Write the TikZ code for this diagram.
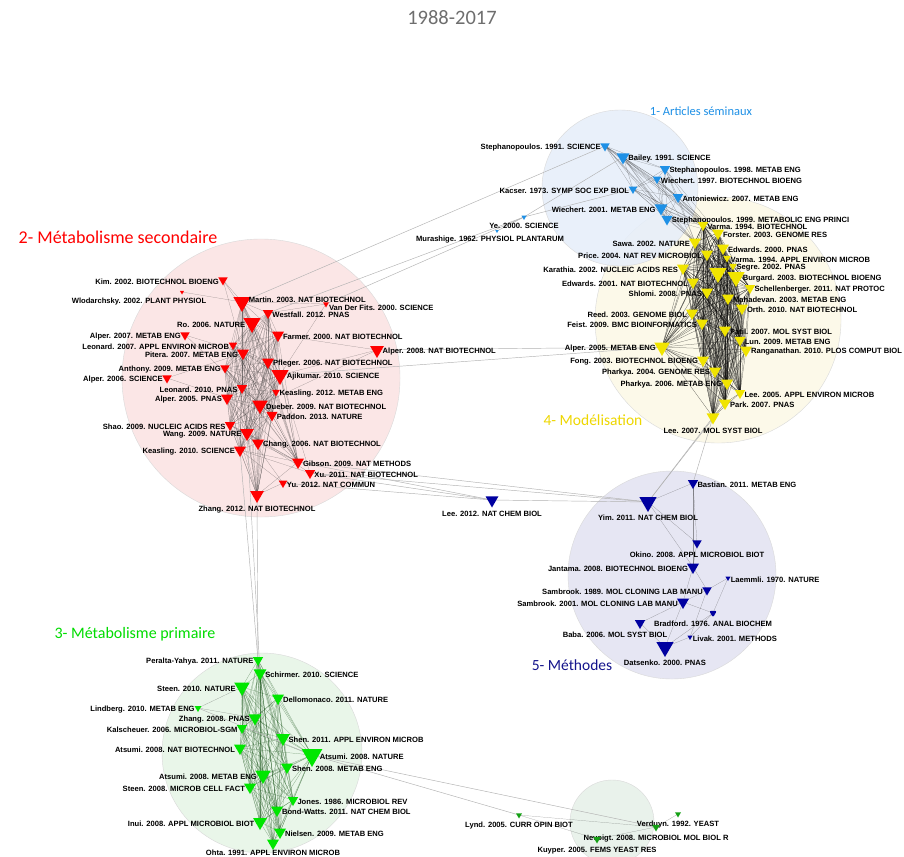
\documentclass[tikz,border=0pt]{standalone}
\usepackage{fontspec}
\setmainfont{Liberation Sans}
\newfontfamily\clusterfont{Carlito}
\usepackage{tikz}
\usetikzlibrary{shapes.geometric}
\definecolor{artblue}{RGB}{30,144,230}
\definecolor{nodered}{RGB}{255,0,0}
\definecolor{nodeyellow}{RGB}{240,228,0}
\definecolor{nodegreen}{RGB}{0,230,0}
\definecolor{nodenavy}{RGB}{0,0,160}
\definecolor{nodesage}{RGB}{20,160,20}
\definecolor{labelyellow}{RGB}{238,215,0}
\definecolor{labelgreen}{RGB}{0,220,0}
\definecolor{labelnavy}{RGB}{20,20,140}
\definecolor{titlegrey}{RGB}{110,110,110}
\definecolor{fillblue}{RGB}{230,238,250}
\definecolor{fillred}{RGB}{251,226,226}
\definecolor{fillgreen}{RGB}{230,245,230}
\definecolor{fillyellow}{RGB}{252,249,230}
\definecolor{fillnavy}{RGB}{226,226,242}
\definecolor{fillsage}{RGB}{230,240,232}
\pgfdeclarelayer{discs}
\pgfdeclarelayer{links}
\pgfsetlayers{discs,links,main}

\begin{document}
\begin{tikzpicture}[
                x=1pt, y=-1pt,
                lbl/.style={font=\bfseries\fontsize{7.6}{8}\selectfont, inner sep=0.6pt, text=black, yshift=-2pt},
                every label/.append style={lbl},
                label distance=0pt,
                tri/.style={regular polygon, regular polygon sides=3, shape border rotate=180, inner sep=0pt, minimum size=#1pt},
                btri/.style={tri=#1, fill=artblue},
                ytri/.style={tri=#1, fill=nodeyellow},
                rtri/.style={tri=#1, fill=nodered},
                gtri/.style={tri=#1, fill=nodegreen},
                dtri/.style={tri=#1, fill=nodenavy},
                stri/.style={tri=#1, fill=nodesage},
                cluster/.style={circle, draw=black!15, line width=0.4pt, inner sep=0pt, fill opacity=0.85, minimum size=#1pt},
                grouplabel/.style={font=\clusterfont\fontsize{#1}{#1}\selectfont},
                lnk/.style={draw=black!85, line width=0.2pt, opacity=0.45},
                ylnk/.style={draw=black, line width=0.25pt, opacity=0.6},
                glnk/.style={draw=green!25!black, line width=0.2pt, opacity=0.5},
                xlnk/.style={draw=black!30, line width=0.45pt}
                ]
                \useasboundingbox (0,0) rectangle (904,856);

                % cluster discs
                \begin{pgfonlayer}{discs}
                \fill[white] (0,0) rectangle (904,856);
                \node[cluster=246, fill=fillyellow] (c4) at (718,320) {};
                \node[cluster=156, fill=fillblue] (c1) at (620,188) {};
                \node[cluster=278, fill=fillred] (c2) at (261,378) {};
                \node[cluster=200, fill=fillgreen] (c3) at (262,753) {};
                \node[cluster=208, fill=fillnavy] (c5) at (672,575) {};
                \node[cluster=84, fill=fillsage] (c6) at (612,822) {};
                \end{pgfonlayer}

                \node[grouplabel=20.5, text=titlegrey] (title) at (452,18) {1988-2017};
                \node[grouplabel=12.5, text=artblue] (lab1) at (701,111) {1- Articles séminaux};
                \node[grouplabel=18, text=nodered] (lab2) at (118,237) {2- Métabolisme secondaire};
                \node[grouplabel=16, text=labelgreen] (lab3) at (135,634) {3- Métabolisme primaire};
                \node[grouplabel=15.5, text=labelyellow] (lab4) at (593,420) {4- Modélisation};
                \node[grouplabel=15.5, text=labelnavy] (lab5) at (572,665) {5- Méthodes};

                % 1 - seminal articles
                \node[btri=11, label=left:Stephanopoulos. 1991. SCIENCE] (b1) at (605,146) {};
                \node[btri=15, label=right:Bailey. 1991. SCIENCE] (b2) at (623,157) {};
                \node[btri=12, label=right:Stephanopoulos. 1998. METAB ENG] (b3) at (665,169) {};
                \node[btri=10, label=right:Wiechert. 1997. BIOTECHNOL BIOENG] (b4) at (657,179) {};
                \node[btri=10, label=left:Kacser. 1973. SYMP SOC EXP BIOL] (b5) at (633,189) {};
                \node[btri=12, label=right:Antoniewicz. 2007. METAB ENG] (b6) at (678,197) {};
                \node[btri=15, label=left:Wiechert. 2001. METAB ENG] (b7) at (661,208) {};
                \node[btri=13, label=right:Stephanopoulos. 1999. METABOLIC ENG PRINCI] (b8) at (667,219) {};
                \node[btri=6, label=below:Ye. 2000. SCIENCE] (b9) at (524,217) {};
                \node[btri=4, label={[xshift=-7pt]below:Murashige. 1962. PHYSIOL PLANTARUM}] (b10) at (497,231) {};

                % 4 - modelling
                \node[ytri=12, label=right:Varma. 1994. BIOTECHNOL] (y1) at (703,225) {};
                \node[ytri=14, label=right:Forster. 2003. GENOME RES] (y2) at (718,233) {};
                \node[ytri=14, label=left:Sawa. 2002. NATURE] (y3) at (695,242) {};
                \node[ytri=14, label=right:Edwards. 2000. PNAS] (y4) at (723,248) {};
                \node[ytri=14, label=left:Price. 2004. NAT REV MICROBIOL] (y5) at (707,254) {};
                \node[ytri=9, label=right:Varma. 1994. APPL ENVIRON MICROB] (y6) at (727,258) {};
                \node[ytri=14, label=left:Karathia. 2002. NUCLEIC ACIDS RES] (y7) at (683,268) {};
                \node[ytri=9, label=right:Segre. 2002. PNAS] (y8) at (733,266) {};
                \node[ytri=20] (y9) at (718,273) {};
                \node[ytri=20, label=right:Burgard. 2003. BIOTECHNOL BIOENG] (y10) at (736,277) {};
                \node[ytri=14, label=left:Edwards. 2001. NAT BIOTECHNOL] (y11) at (693,282) {};
                \node[ytri=12, label=right:Schellenberger. 2011. NAT PROTOC] (y12) at (750,288) {};
                \node[ytri=14, label=left:Shlomi. 2008. PNAS] (y13) at (707,292) {};
                \node[ytri=14, label=right:Mahadevan. 2003. METAB ENG] (y14) at (728,298) {};
                \node[ytri=14, label=right:Orth. 2010. NAT BIOTECHNOL] (y15) at (742,308) {};
                \node[ytri=14, label=left:Reed. 2003. GENOME BIOL] (y16) at (692,313) {};
                \node[ytri=14, label=left:Feist. 2009. BMC BIOINFORMATICS] (y17) at (702,323) {};
                \node[ytri=14, label=right:Patil. 2007. MOL SYST BIOL] (y18) at (725,330) {};
                \node[ytri=13, label=right:Lun. 2009. METAB ENG] (y19) at (740,340) {};
                \node[ytri=14, label=right:Ranganathan. 2010. PLOS COMPUT BIOL] (y20) at (746,350) {};
                \node[ytri=18, label=left:Alper. 2005. METAB ENG] (y21) at (662,347) {};
                \node[ytri=14, label=left:Fong. 2003. BIOTECHNOL BIOENG] (y22) at (703,360) {};
                \node[ytri=14, label=left:Pharkya. 2004. GENOME RES] (y23) at (715,371) {};
                \node[ytri=14, label=left:Pharkya. 2006. METAB ENG] (y24) at (727,383) {};
                \node[ytri=12, label=right:Lee. 2005. APPL ENVIRON MICROB] (y25) at (740,393) {};
                \node[ytri=14, label=right:Park. 2007. PNAS] (y26) at (725,403) {};
                \node[ytri=15, label=below:Lee. 2007. MOL SYST BIOL] (y27) at (713,417) {};

                % 2 - secondary metabolism
                \node[rtri=11, label=left:Kim. 2002. BIOTECHNOL BIOENG] (r1) at (223,280) {};
                \node[rtri=5, label={[xshift=-43pt]below:Wlodarchsky. 2002. PLANT PHYSIOL}] (r2) at (182,292) {};
                \node[rtri=20, label={[yshift=4pt]right:Martin. 2003. NAT BIOTECHNOL}] (r3) at (242,302) {};
                \node[rtri=7, label={[yshift=-2pt]right:Van Der Fits. 2000. SCIENCE}] (r4) at (326,304) {};
                \node[rtri=20, label=left:Ro. 2006. NATURE] (r5) at (252,323) {};
                \node[rtri=12, label=right:Westfall. 2012. PNAS] (r6) at (268,313) {};
                \node[rtri=14, label=right:Farmer. 2000. NAT BIOTECHNOL] (r7) at (278,335) {};
                \node[rtri=11, label=left:Alper. 2007. METAB ENG] (r8) at (185,335) {};
                \node[rtri=10, label=left:Leonard. 2007. APPL ENVIRON MICROB] (r9) at (233,345) {};
                \node[rtri=14, label=left:Pitera. 2007. METAB ENG] (r10) at (243,353) {};
                \node[rtri=14, label=right:Pfleger. 2006. NAT BIOTECHNOL] (r11) at (268,362) {};
                \node[rtri=16, label=right:Alper. 2008. NAT BIOTECHNOL] (r12) at (377,350) {};
                \node[rtri=11, label=left:Anthony. 2009. METAB ENG] (r13) at (225,368) {};
                \node[rtri=20, label=right:Ajikumar. 2010. SCIENCE] (r14) at (280,375) {};
                \node[rtri=11, label=left:Alper. 2006. SCIENCE] (r15) at (167,378) {};
                \node[rtri=12, label=left:Leonard. 2010. PNAS] (r16) at (242,388) {};
                \node[rtri=9, label=right:Keasling. 2012. METAB ENG] (r17) at (276,392) {};
                \node[rtri=14, label=left:Alper. 2005. PNAS] (r18) at (227,398) {};
                \node[rtri=18, label=right:Dueber. 2009. NAT BIOTECHNOL] (r19) at (260,405) {};
                \node[rtri=13, label=right:Paddon. 2013. NATURE] (r20) at (272,415) {};
                \node[rtri=12, label=left:Shao. 2009. NUCLEIC ACIDS RES] (r21) at (230,425) {};
                \node[rtri=16, label=left:Wang. 2009. NATURE] (r22) at (247,433) {};
                \node[rtri=14, label=right:Chang. 2006. NAT BIOTECHNOL] (r23) at (258,443) {};
                \node[rtri=14, label=left:Keasling. 2010. SCIENCE] (r24) at (240,450) {};
                \node[rtri=14, label=right:Gibson. 2009. NAT METHODS] (r25) at (298,462) {};
                \node[rtri=12, label=right:Xu. 2011. NAT BIOTECHNOL] (r26) at (310,473) {};
                \node[rtri=10, label=right:Yu. 2012. NAT COMMUN] (r27) at (283,483) {};
                \node[rtri=16, label=below:Zhang. 2012. NAT BIOTECHNOL] (r28) at (257,495) {};

                % 3 - primary metabolism
                \node[gtri=12, label=left:Peralta-Yahya. 2011. NATURE] (g1) at (258,660) {};
                \node[gtri=15, label=right:Schirmer. 2010. SCIENCE] (g2) at (260,673) {};
                \node[gtri=18, label=left:Steen. 2010. NATURE] (g3) at (242,687) {};
                \node[gtri=14, label=right:Dellomonaco. 2011. NATURE] (g4) at (278,698) {};
                \node[gtri=8, label=left:Lindberg. 2010. METAB ENG] (g5) at (198,708) {};
                \node[gtri=15, label=left:Zhang. 2008. PNAS] (g6) at (255,718) {};
                \node[gtri=12, label=left:Kalscheuer. 2006. MICROBIOL-SGM] (g7) at (242,728) {};
                \node[gtri=16, label=right:Shen. 2011. APPL ENVIRON MICROB] (g8) at (283,738) {};
                \node[gtri=14, label=left:Atsumi. 2008. NAT BIOTECHNOL] (g9) at (240,748) {};
                \node[gtri=24, label=right:Atsumi. 2008. NATURE] (g10) at (312,755) {};
                \node[gtri=14, label=right:Shen. 2008. METAB ENG] (g11) at (287,767) {};
                \node[gtri=18, label=left:Atsumi. 2008. METAB ENG] (g12) at (263,775) {};
                \node[gtri=14, label=left:Steen. 2008. MICROB CELL FACT] (g13) at (250,787) {};
                \node[gtri=12, label=right:Jones. 1986. MICROBIOL REV] (g14) at (293,800) {};
                \node[gtri=14, label=right:Bond-Watts. 2011. NAT CHEM BIOL] (g15) at (277,810) {};
                \node[gtri=16, label=left:Inui. 2008. APPL MICROBIOL BIOT] (g16) at (260,822) {};
                \node[gtri=14, label=right:Nielsen. 2009. METAB ENG] (g17) at (280,832) {};
                \node[gtri=14, label={[yshift=3pt]below:Ohta. 1991. APPL ENVIRON MICROB}] (g18) at (273,843) {};

                % 5 - methods
                \node[dtri=15, label=below:Lee. 2012. NAT CHEM BIOL] (d1) at (492,500) {};
                \node[dtri=20, label=below:Yim. 2011. NAT CHEM BIOL] (d2) at (648,502) {};
                \node[dtri=12, label=right:Bastian. 2011. METAB ENG] (d3) at (693,483) {};
                \node[dtri=11, label=below:Okino. 2008. APPL MICROBIOL BIOT] (d4) at (697,543) {};
                \node[dtri=14, label=left:Jantama. 2008. BIOTECHNOL BIOENG] (d5) at (693,567) {};
                \node[dtri=6, label=right:Laemmli. 1970. NATURE] (d6) at (728,578) {};
                \node[dtri=11, label=left:Sambrook. 1989. MOL CLONING LAB MANU] (d7) at (707,590) {};
                \node[dtri=14, label=left:Sambrook. 2001. MOL CLONING LAB MANU] (d8) at (683,602) {};
                \node[dtri=9, rounded corners=2pt, label=below:Bradford. 1976. ANAL BIOCHEM] (d9) at (713,613) {};
                \node[dtri=12, label={[xshift=-25pt]below:Baba. 2006. MOL SYST BIOL}] (d10) at (640,623) {};
                \node[dtri=6, label=right:Livak. 2001. METHODS] (d11) at (690,637) {};
                \node[dtri=20, label=below:Datsenko. 2000. PNAS] (d12) at (665,647) {};

                % yeast group
                \node[stri=7, label=below:Lynd. 2005. CURR OPIN BIOT] (s1) at (519,815) {};
                \node[stri=7, label=below:Verduyn. 1992. YEAST] (s2) at (678,814) {};
                \node[stri=9, label=below:Nevoigt. 2008. MICROBIOL MOL BIOL R] (s3) at (656,827) {};
                \node[stri=9, label=below:Kuyper. 2005. FEMS YEAST RES] (s4) at (597,839) {};

                % co-citation links
                \def\bluecore{b1,b2,b3,b4,b5,b6,b7,b8,y1,y2,y3}
                \def\yellowcore{y1,y2,y3,y4,y5,y6,y7,y8,y9,y10,y11,y12,y13,y14,y15,y16,y17,y18,y19,y20,y21,y22,y23,y24,y25,y26,y27}
                \def\redcore{r3,r5,r6,r7,r9,r10,r11,r13,r14,r16,r17,r18,r19,r20,r21,r22,r23,r24,r25,r28}
                \def\greencore{g1,g2,g3,g4,g6,g7,g8,g9,g10,g11,g12,g13,g14,g15,g16,g17,g18}
                \begin{pgfonlayer}{links}
                \foreach \p [count=\i] in \bluecore {
                    \foreach \q [count=\j] in \bluecore {
                        \ifnum\j>\i \draw[lnk] (\p.center) -- (\q.center); \fi
                    }
                }
                \foreach \p [count=\i] in \yellowcore {
                    \foreach \q [count=\j] in \yellowcore {
                        \ifnum\j>\i \draw[ylnk] (\p.center) -- (\q.center); \fi
                    }
                }
                \foreach \p [count=\i] in \redcore {
                    \foreach \q [count=\j] in \redcore {
                        \ifnum\j>\i \draw[lnk] (\p.center) -- (\q.center); \fi
                    }
                }
                \foreach \p [count=\i] in \greencore {
                    \foreach \q [count=\j] in \greencore {
                        \ifnum\j>\i \draw[glnk] (\p.center) -- (\q.center); \fi
                    }
                }
                \foreach \p/\q in {r1/r3, r1/r5, r1/r10, r2/r3, r4/r3, r4/r6, r4/r14, r8/r10, r8/r16, r15/r18, r15/r10,
                                   r12/r14, r12/r19, r12/r7, r26/r22, r26/r24, r26/r14, r27/r24, r27/r22, r27/r28,
                                   g5/g6, g5/g3,
                                   d2/d3, d2/d4, d3/d4, d4/d5, d2/d5, d3/d5, d5/d7, d5/d8, d7/d6, d6/d9, d7/d8, d8/d9,
                                   d8/d12, d9/d12, d10/d12, d11/d12, d7/d11, d9/d11, d8/d10,
                                   s1/s3, s4/s3, s1/s4, s2/s3}
                    \draw[lnk] (\p.center) -- (\q.center);
                \foreach \p/\q in {r4/b9, r3/b1, r6/b9, b9/b2, b9/b5, b10/b9, r12/y21, r14/y21,
                                   r25/d1, r26/d1, r27/d1, r26/d2, d1/d2, r25/d2,
                                   r28/g1, r24/g1, r22/g2, y27/d2, y27/d3, y26/d2,
                                   g10/s1, g10/s3, g5/g10}
                    \draw[xlnk] (\p.center) -- (\q.center);
                \end{pgfonlayer}
            \end{tikzpicture}
\end{document}
